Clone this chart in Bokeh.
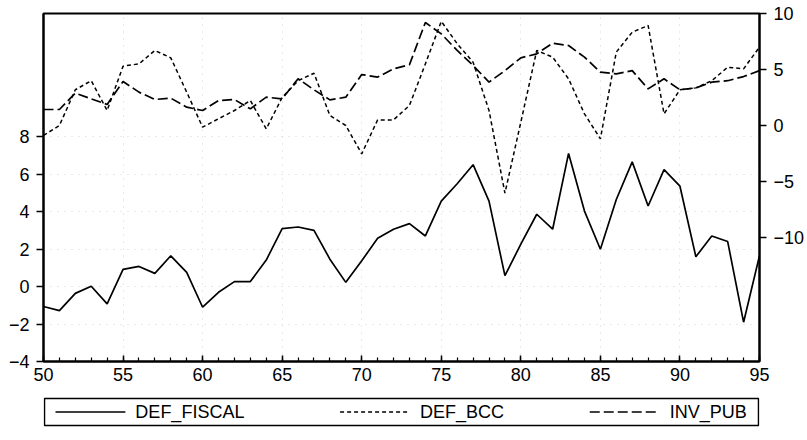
from bokeh.plotting import figure
from bokeh.models import Range1d, LinearAxis, FixedTicker
from bokeh.layouts import column
from bokeh.core.properties import value
from bokeh.embed import file_html
from bokeh.resources import INLINE

years = list(range(50, 96))
def_fiscal = [-1.06, -1.28, -0.36, 0.02, -0.92, 0.92, 1.08, 0.71, 1.65, 0.76,
              -1.10, -0.30, 0.27, 0.27, 1.42, 3.10, 3.19, 3.01, 1.47, 0.23,
              1.38, 2.59, 3.07, 3.37, 2.71, 4.57, 5.50, 6.52, 4.57, 0.59,
              2.27, 3.87, 3.07, 7.12, 4.04, 2.00, 4.66, 6.67, 4.31, 6.26,
              5.37, 1.60, 2.71, 2.41, -1.90, 1.65]
def_bcc = [-0.89, 0.00, 3.19, 4.00, 1.34, 5.30, 5.50, 6.70, 6.04, 2.98,
           -0.15, 0.60, 1.34, 2.23, -0.30, 2.50, 4.00, 4.67, 0.89, 0.00,
           -2.53, 0.50, 0.50, 1.79, 5.50, 9.30, 7.30, 5.65, 1.34, -6.04,
           0.30, 6.70, 6.10, 4.17, 1.04, -1.19, 6.55, 8.33, 8.93, 1.04,
           3.19, 3.36, 4.00, 5.20, 5.06, 7.00]
inv_pub = [1.43, 1.43, 2.89, 2.38, 1.88, 3.93, 2.98, 2.32, 2.44, 1.64,
           1.34, 2.23, 2.32, 1.49, 2.53, 2.38, 4.17, 3.19, 2.29, 2.53,
           4.55, 4.32, 5.06, 5.42, 9.20, 8.18, 6.70, 5.36, 3.87, 4.90,
           6.04, 6.40, 7.35, 7.14, 6.10, 4.76, 4.61, 4.90, 3.27, 4.17,
           3.19, 3.36, 3.87, 4.00, 4.37, 4.90]
series_names = ["DEF_FISCAL", "DEF_BCC", "INV_PUB"]
x_ticks = [50, 55, 60, 65, 70, 75, 80, 85, 90, 95]
left_ticks = [-4, -2, 0, 2, 4, 6, 8]
right_ticks = [-10, -5, 0, 5, 10]

FONT = "Liberation Sans"
W = 807
H_MAIN = 392
H_LEG = 48
B_LEFT, B_RIGHT = 43, 47
FRAME_W = W - B_LEFT - B_RIGHT

p = figure(width=W, height=H_MAIN, output_backend="svg", toolbar_location=None,
           x_range=Range1d(50, 95), y_range=Range1d(-4, 14.6),
           min_border_left=B_LEFT, min_border_right=B_RIGHT,
           min_border_top=13, min_border_bottom=H_MAIN - 361)
p.extra_y_ranges = {"right": Range1d(-21.07, 10)}
p.outline_line_color = "black"
p.outline_line_width = 2
p.background_fill_color = "white"
p.border_fill_color = "white"

# faint dotted grid
p.xgrid.ticker = FixedTicker(ticks=x_ticks[1:-1])
p.ygrid.ticker = FixedTicker(ticks=left_ticks[1:])
for g in (p.xgrid, p.ygrid):
    g.grid_line_color = "#c8c8c8"
    g.grid_line_dash = "1 6"
    g.grid_line_alpha = 0.8

xa = p.xaxis[0]
xa.ticker = FixedTicker(ticks=x_ticks, minor_ticks=years)
xa.major_tick_in = 6
xa.major_tick_out = 0
xa.minor_tick_in = 4
xa.minor_tick_out = 0
xa.major_label_standoff = 6

ya = p.yaxis[0]
ya.ticker = FixedTicker(ticks=left_ticks)
ya.major_tick_in = 0
ya.major_tick_out = 7
ya.minor_tick_line_color = None
ya.major_label_standoff = 7

ra = LinearAxis(y_range_name="right", ticker=FixedTicker(ticks=right_ticks))
ra.major_tick_in = 0
ra.major_tick_out = 7
ra.minor_tick_line_color = None
ra.major_label_standoff = 7
p.add_layout(ra, "right")

for ax in (xa, ya, ra):
    ax.axis_line_width = 2
    ax.axis_line_color = "black"
    ax.major_tick_line_width = 1.5
    ax.minor_tick_line_width = 1.2
    ax.major_label_text_font = FONT
    ax.major_label_text_font_size = "18px"
    ax.major_label_text_color = "black"

p.line(years, def_fiscal, line_color="black", line_width=1.7)
p.line(years, def_bcc, line_color="black", line_width=1.5, line_dash="4 3", y_range_name="right")
p.line(years, inv_pub, line_color="black", line_width=1.7, line_dash="10 4", y_range_name="right")

# legend strip (x in pixels from the frame's left edge)
lg = figure(width=W, height=H_LEG, output_backend="svg", toolbar_location=None,
            x_range=Range1d(0, FRAME_W), y_range=Range1d(0, H_LEG),
            x_axis_location=None, y_axis_location=None,
            min_border_left=B_LEFT, min_border_right=B_RIGHT,
            min_border_top=0, min_border_bottom=0, outline_line_color=None)
lg.grid.visible = False
lg.quad(left=1, right=FRAME_W - 1, bottom=15, top=42, fill_color=None,
        line_color="black", line_width=1.5)
sample_x0 = [12, 297, 547]
dashes = ["solid", "4 3", "10 4"]
for x0, d, name in zip(sample_x0, dashes, series_names):
    lg.line([x0, x0 + 70], [28.5, 28.5], line_color="black", line_width=1.5, line_dash=d)
    lg.text(x=[x0 + 80], y=[28.5], text=[name], text_font=value(FONT),
            text_font_size="18px", text_baseline="middle", text_color="black")

layout = column(p, lg, spacing=0)
open("out.html", "w").write(file_html(layout, INLINE))
